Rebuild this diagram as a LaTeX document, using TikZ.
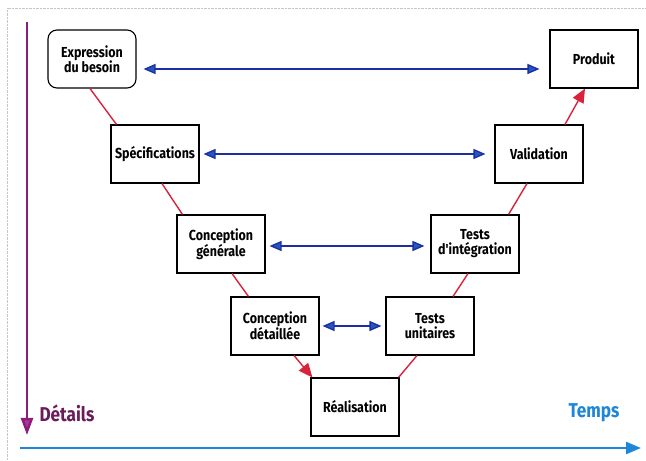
\documentclass[tikz,border=0pt]{standalone}
\usepackage{fontspec}
\setmainfont{Fira Sans}
\newfontfamily\condfont[FakeStretch=0.86]{Fira Sans}
\usetikzlibrary{positioning,arrows.meta}
\definecolor{vred}{HTML}{D8233A}
\definecolor{vblue}{HTML}{1B2F9E}
\definecolor{vbluefill}{HTML}{2456C2}
\definecolor{axeblue}{HTML}{1C86D8}
\definecolor{axepurple}{HTML}{8A1E78}
\definecolor{axepurplefill}{HTML}{A8389C}
\definecolor{txtpurple}{HTML}{6A1B5C}

\begin{document}
\begin{tikzpicture}[x=1pt,y=1pt,
  etape/.style={draw,line width=1.1pt,minimum width=88pt,minimum height=58pt,align=center,inner sep=2pt,font=\condfont\bfseries\fontsize{14.5}{15}\selectfont},
  lien/.style={vred,line width=1.4pt},
  pointe/.style={-{Triangle[length=14pt,width=12pt,fill=vred]}},
  fleche/.style={vblue,line width=1.3pt,{Triangle[length=12pt,width=10pt,fill=vbluefill]}-{Triangle[length=12pt,width=10pt,fill=vbluefill]}},
  axe/.style={font=\condfont\bfseries\fontsize{20}{22}\selectfont}]
  \useasboundingbox (0,0) rectangle (646,461);
  \draw[gray!45,densely dotted] (7,0)--(7,453)--(646,453);
  % etapes du cycle en V
  \node[etape,rounded corners=9pt] (expr) at (92,402){Expression\\du besoin};
  \node[etape] (prod) at (594,402){Produit};
  \node[etape] (spec) at (155,307){Spécifications};
  \node[etape] (val) at (539,307){Validation};
  \node[etape] (gen) at (221,217){Conception\\générale};
  \node[etape] (ti) at (475,217){Tests\\d'intégration};
  \node[etape] (det) at (275,135){Conception\\détaillée};
  \node[etape] (tu) at (430,135){Tests\\unitaires};
  \node[etape] (real) at (355,54){Réalisation};
  % branche descendante
  \draw[lien] ([xshift=-2]expr.south)--([xshift=6]spec.north west);
  \draw[lien] ([xshift=7]spec.south)--([xshift=6]gen.north west);
  \draw[lien] ([xshift=11]gen.south)--([xshift=18]det.north west);
  \draw[lien,pointe] ([xshift=19]det.south)--([xshift=2]real.north west);
  % branche montante
  \draw[lien] ([xshift=-1]real.north east)--([xshift=-13]tu.south);
  \draw[lien] ([xshift=23]tu.north)--([xshift=-7]ti.south);
  \draw[lien] ([xshift=-11]ti.north east)--([xshift=-12]val.south);
  \draw[lien,pointe] ([xshift=26]val.north)--([xshift=-9]prod.south);
  % correspondances
  \draw[fleche] ([shift={(7,-10)}]expr.east)--([shift={(-10,-10)}]prod.west);
  \draw[fleche] ([xshift=4]spec.east)--([xshift=-9]val.west);
  \draw[fleche] ([shift={(4,-2)}]gen.east)--([shift={(-6,-2)}]ti.west);
  \draw[fleche] ([xshift=3]det.east)--([xshift=-4]tu.west);
  % axes
  \coordinate (dhaut) at (27,439); \coordinate (dbas) at (27,26);
  \coordinate (tgauche) at (20,13); \coordinate (tdroite) at (641,13);
  \draw[axepurple,line width=2.4pt,-{Triangle[length=17pt,width=12pt,fill=axepurplefill]}] (dhaut)--(dbas);
  \draw[axeblue,line width=2.4pt,-{Triangle[length=15pt,width=12pt,fill=axeblue]}] (tgauche)--(tdroite);
  \node[axe,text=txtpurple,anchor=west] (details) at (36,48){Détails};
  \node[axe,text=axeblue,anchor=east] (temps) at (623,48){Temps};
\end{tikzpicture}
\end{document}
